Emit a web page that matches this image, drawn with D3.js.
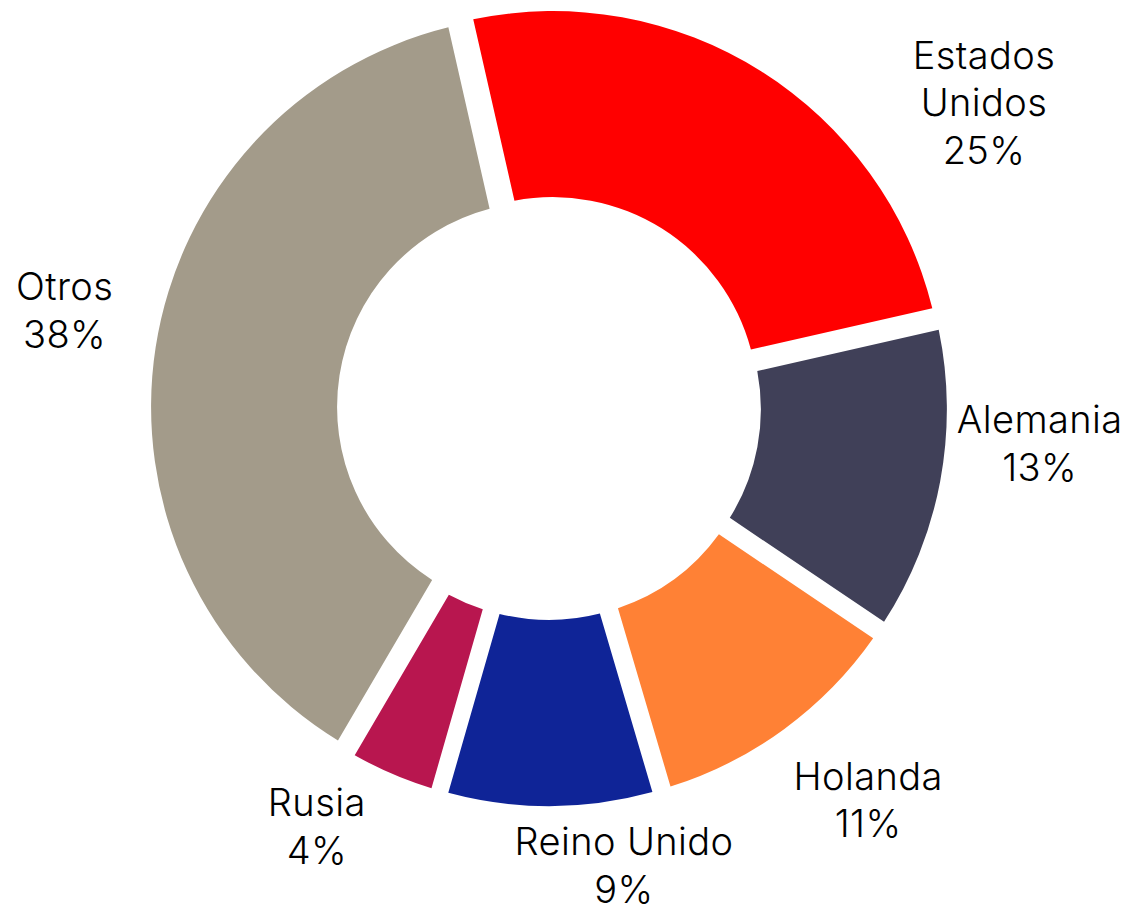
<!DOCTYPE html>
<html>
<head>
<meta charset="utf-8">
<script src="https://cdn.jsdelivr.net/npm/d3@7"></script>
<style>
  html, body { margin: 0; padding: 0; background: #fff; }
  svg { display: block; }
  .slice-label { font-family: Inter, "Open Sans", sans-serif; font-weight: 300; font-size: 38px; letter-spacing: 0.4px; fill: #000; }
</style>
</head>
<body>
<div id="chart"></div>
<script>
// data
const countries = ['Estados Unidos', 'Alemania', 'Holanda', 'Reino Unido', 'Rusia', 'Otros'];
const shares = [25, 13, 11, 9, 4, 38];
const labelLines = [['Estados', 'Unidos'], ['Alemania'], ['Holanda'], ['Reino Unido'], ['Rusia'], ['Otros']];
const colors = ['#FF0000', '#404058', '#FF8135', '#0F2497', '#B8164F', '#A39B8A'];

// label placement (polar: degrees clockwise from top, distance from centre)
const labelAngle = [55.0, 94.2, 140.9, 170.7, 209.0, 281.3];
const labelRadius = [531, 492, 506, 464, 479, 494];

const width = 1131;
const height = 913;
const cx = 549, cy = 408;
const outerR = 391, innerR = 205;
const explode = 7;
const lineH = 47.5;

const svg = d3.select('#chart').append('svg')
  .attr('width', width)
  .attr('height', height);

const g = svg.append('g')
  .attr('transform', `translate(${cx},${cy})`);

const startAngle = -12.8 * Math.PI / 180;

const pie = d3.pie()
  .sort(null)
  .value(d => d.value)
  .startAngle(startAngle)
  .endAngle(startAngle + 2 * Math.PI);

const data = countries.map((c, i) => ({ name: c, value: shares[i], idx: i }));
const arcs = pie(data);

const arc = d3.arc()
  .innerRadius(innerR)
  .outerRadius(outerR)
  .padAngle(0.033);

g.selectAll('.slice')
  .data(arcs)
  .enter().append('path')
    .attr('class', 'slice')
    .attr('fill', d => colors[d.data.idx])
    .attr('transform', d => {
      const mid = (d.startAngle + d.endAngle) / 2;
      return `translate(${explode * Math.sin(mid)},${-explode * Math.cos(mid)})`;
    })
    .attr('d', arc);

// labels
g.selectAll('.slice-label')
  .data(arcs)
  .enter().append('text')
    .attr('class', 'slice-label')
    .attr('text-anchor', 'middle')
    .each(function(d) {
      const i = d.data.idx;
      const a = labelAngle[i] * Math.PI / 180;
      const x = labelRadius[i] * Math.sin(a);
      const y = -labelRadius[i] * Math.cos(a);
      const lines = labelLines[i].concat([d3.format('.0f')(d.data.value) + '%']);
      const first = y + 13 - (lines.length - 1) * lineH / 2;
      const t = d3.select(this);
      lines.forEach((ln, k) => {
        t.append('tspan')
          .attr('x', x)
          .attr('y', first + k * lineH)
          .text(ln);
      });
    });
</script>
</body>
</html>
